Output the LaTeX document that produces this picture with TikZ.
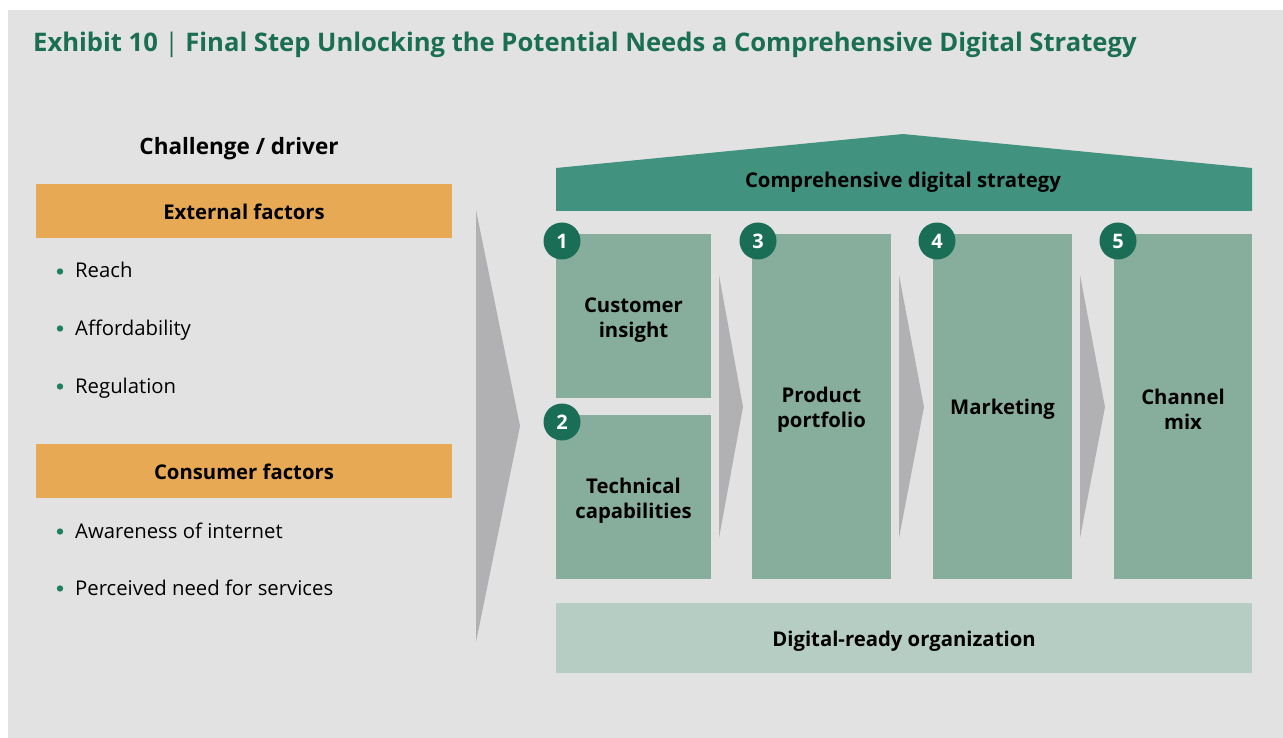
\documentclass[tikz,border=0pt]{standalone}
\usepackage{fontspec}
\setmainfont{Open Sans}
\usetikzlibrary{calc}
\definecolor{bggrey}{HTML}{E2E2E2}
\definecolor{titlegreen}{HTML}{1A6E52}
\definecolor{orangebox}{HTML}{E8A955}
\definecolor{roofgreen}{HTML}{41927F}
\definecolor{pillar}{HTML}{87AE9D}
\definecolor{basegreen}{HTML}{B5CDC2}
\definecolor{circgreen}{HTML}{1A6E55}
\definecolor{chevgrey}{HTML}{B1B1B3}
\definecolor{dotgreen}{HTML}{1F8060}
\tikzset{
  lbl/.style={font=\fontsize{20.3}{25}\selectfont\bfseries, text=black, align=center, inner sep=0pt},
  orbox/.style={fill=orangebox, draw=none, minimum width=416pt, minimum height=54pt},
  pillarbox/.style={fill=pillar, draw=none, inner sep=0pt},
  numc/.style={circle, fill=circgreen, draw=none, minimum size=37pt, inner sep=0pt, text=white, font=\fontsize{20}{24}\selectfont\bfseries},
  bul/.style={anchor=base west, font=\fontsize{20.3}{24}\selectfont, text=black, inner sep=0pt},
  chev/.style={fill=chevgrey, draw=none},
}
\begin{document}
\begin{tikzpicture}[x=1pt,y=-1pt]
\useasboundingbox (0,0) rectangle (1283,738);
\fill[white] (0,0) rectangle (1283,738);
\fill[bggrey] (8,10) rectangle (1283,738);
% title
\node[anchor=base west, inner sep=0pt, text=titlegreen, font=\fontsize{25.6}{28}\selectfont\bfseries] (title) at (33,52)
  {Exhibit 10 {\fontseries{m}\selectfont|} Final Step Unlocking the Potential Needs a Comprehensive Digital Strategy};
% left column
\node[lbl, anchor=base, font=\fontsize{22.5}{26}\selectfont\bfseries] (chd) at (239,155) {Challenge / driver};
\node[orbox] (ext) at (244,211) {};
\node[lbl] (extt) at ($(ext.center)+(0,1)$) {External factors};
\node[orbox] (con) at (244,471) {};
\node[lbl] (cont) at ($(con.center)+(0,1)$) {Consumer factors};
\foreach \t/\y/\n in {Reach/278/b1, Affordability/335/b2, Regulation/393/b3, Awareness of internet/538/b4, Perceived need for services/595/b5}{
  \node[bul] (\n) at (75,\y) {\t};
  \fill[dotgreen] (60,\y-6.5) circle (3.2pt);
}
% big chevron
\fill[chev] (476,210) -- (520,426) -- (476,642) -- cycle;
% roof
\fill[roofgreen] (556,211) -- (556,168) -- (903,134) -- (1252,168) -- (1252,211) -- cycle;
\node[lbl] (roof) at (903,182) {Comprehensive digital strategy};
% pillars
\node[pillarbox, minimum width=155pt, minimum height=164pt] (ci) at (633.5,316) {};
\node[pillarbox, minimum width=155pt, minimum height=164pt] (tc) at (633.5,497) {};
\node[pillarbox, minimum width=139pt, minimum height=345pt] (pp) at (821.5,406.5) {};
\node[pillarbox, minimum width=139pt, minimum height=345pt] (mk) at (1002.5,406.5) {};
\node[pillarbox, minimum width=138pt, minimum height=345pt] (cm) at (1183,406.5) {};
\node[lbl] (cit) at ($(ci.center)+(0,4)$) {Customer\\insight};
\node[lbl] (tct) at ($(tc.center)+(0,4)$) {Technical\\capabilities};
\node[lbl] (ppt) at ($(pp.center)+(0,3)$) {Product\\portfolio};
\node[lbl] (mkt) at ($(mk.center)+(0,3)$) {Marketing};
\node[lbl] (cmt) at ($(cm.center)+(0,3)$) {Channel\\mix};
% base
\node[fill=basegreen, minimum width=696pt, minimum height=70pt] (org) at (904,638) {};
\node[lbl] (orgt) at ($(org.center)+(0,3)$) {Digital-ready organization};
% small chevrons
\fill[chev] (719,275) -- (743,407) -- (719,538) -- cycle;
\fill[chev] (899,275) -- (924,407) -- (899,538) -- cycle;
\fill[chev] (1080,275) -- (1105,407) -- (1080,538) -- cycle;
% number circles
\node[numc] (n1) at (562,241) {1};
\node[numc] (n2) at (562,422) {2};
\node[numc] (n3) at (758,241) {3};
\node[numc] (n4) at (937,241) {4};
\node[numc] (n5) at (1118,241) {5};
\end{tikzpicture}
\end{document}
